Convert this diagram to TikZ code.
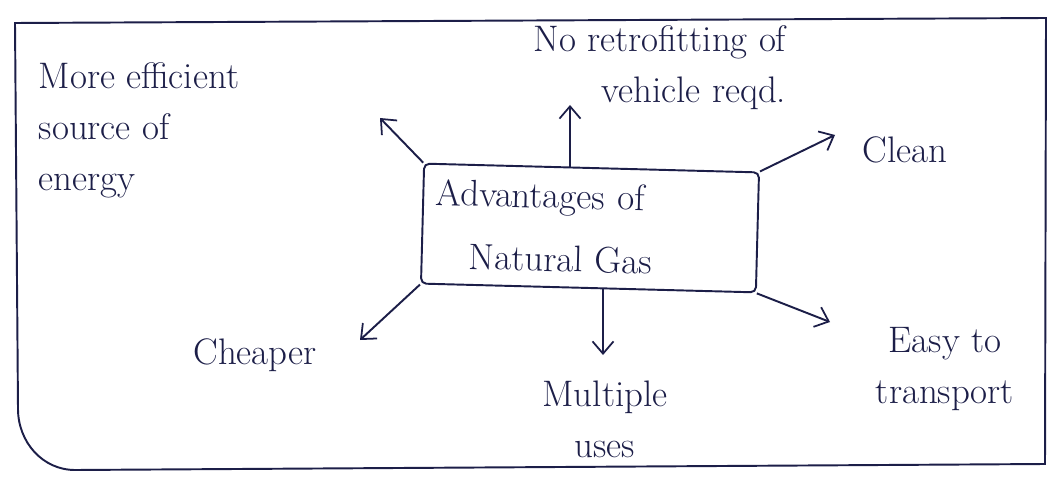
\documentclass[tikz,border=0pt]{standalone}
\usepackage{tikz}
\usetikzlibrary{
    arrows.meta,
    positioning
}
\definecolor{ink}{RGB}{28,30,72}
\definecolor{paper}{RGB}{255,255,255}
\tikzset{
    line cap=round,
    line join=round,
    frame/.style={
        draw=ink,
        line width=1.1pt
    },
    hubbox/.style={
        rectangle,
        draw=ink,
        line width=1.1pt,
        rounded corners=3pt,
        minimum width=6.7cm,
        minimum height=2.4cm,
        text width=6.2cm,
        text=ink,
        align=left,
        font=\fontsize{21}{36}\selectfont
    },
    branch/.style={
        -{Straight Barb[length=7pt, width=12pt, line width=1pt]},
        draw=ink,
        line width=1.1pt
    },
    idea/.style={
        text=ink,
        inner sep=2pt,
        font=\fontsize{21}{29}\selectfont
    }
}

\begin{document}
\begin{tikzpicture}
\useasboundingbox[fill=paper] (0,0) rectangle (21.1,9.58);

% page frame, rounded only at the lower left
\draw[frame] (0.3,9.12) -- (20.92,9.22) -- (20.9,0.3) -- (1.5,0.18)
    to[out=180, in=-90] (0.36,1.4) -- cycle;

\node[hubbox, rotate=-1.5] (hub) at (11.8,5.02) {Advantages of\\ \hspace{0.7cm}Natural Gas};

\coordinate (tipEff) at (7.6,7.22);
\coordinate (tipRetro) at (11.4,7.48);
\coordinate (tipClean) at (16.7,6.88);
\coordinate (tipEasy) at (16.6,3.14);
\coordinate (tipMulti) at (12.06,2.48);
\coordinate (tipCheap) at (7.2,2.78);

\draw[branch] (hub.north west) -- (tipEff);
\draw[branch] (tipRetro |- hub.north) -- (tipRetro);
\draw[branch] (hub.north east) -- (tipClean);
\draw[branch] (hub.south east) -- (tipEasy);
\draw[branch] (tipMulti |- hub.south) -- (tipMulti);
\draw[branch] (hub.south west) -- (tipCheap);

\node[idea, anchor=north west, align=left] (efficient) at (0.7,8.4) {More efficient\\source of\\energy};
\node[idea, anchor=north east, align=right] (retro) at (15.8,9.15) {No retrofitting of\\vehicle reqd.};
\node[idea] (clean) at (18.1,6.58) {Clean};
\node[idea, align=center] (easy) at (18.9,2.2) {Easy to\\transport};
\node[idea, align=center] (multi) at (12.1,1.2) {Multiple\\uses};
\node[idea] (cheap) at (5.1,2.48) {Cheaper};

\end{tikzpicture}
\end{document}
